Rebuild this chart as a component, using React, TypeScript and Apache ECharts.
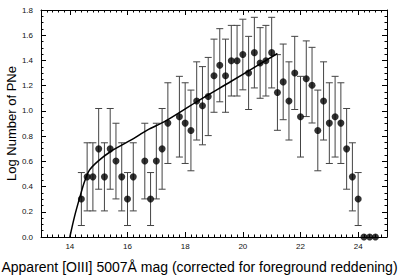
import React, { useEffect, useRef } from 'react';
import * as echarts from 'echarts';

// Binned PN counts (log10 N) with error half-widths
const mags = [14.4, 14.6, 14.8, 15.0, 15.2, 15.4, 15.6, 15.8, 16.0, 16.2, 16.6, 16.8, 17.0, 17.2, 17.4, 17.8, 18.0, 18.2, 18.4, 18.6, 18.8, 19.0, 19.2, 19.4, 19.6, 19.8, 20.0, 20.2, 20.4, 20.6, 20.8, 21.0, 21.2, 21.4, 21.6, 21.8, 22.0, 22.2, 22.4, 22.6, 22.8, 23.0, 23.2, 23.4, 23.6, 23.8, 24.0];
const logN = [0.301, 0.477, 0.477, 0.699, 0.477, 0.699, 0.602, 0.477, 0.301, 0.477, 0.602, 0.301, 0.602, 0.699, 0.903, 0.954, 0.903, 0.845, 1.079, 1.041, 1.114, 1.279, 1.362, 1.279, 1.398, 1.398, 1.447, 1.301, 1.462, 1.380, 1.398, 1.462, 1.146, 1.230, 1.079, 1.301, 0.954, 1.255, 1.204, 0.845, 1.079, 0.903, 0.954, 0.903, 0.699, 0.477, 0.301];
const errs = [0.21, 0.27, 0.27, 0.32, 0.27, 0.32, 0.30, 0.27, 0.21, 0.27, 0.30, 0.21, 0.30, 0.32, 0.32, 0.32, 0.32, 0.32, 0.31, 0.31, 0.31, 0.29, 0.29, 0.29, 0.28, 0.28, 0.28, 0.29, 0.28, 0.28, 0.28, 0.28, 0.30, 0.30, 0.31, 0.29, 0.32, 0.30, 0.30, 0.32, 0.31, 0.32, 0.32, 0.32, 0.32, 0.27, 0.21];
const zeroMags = [24.2, 24.4, 24.6];
const zeroVals = [0, 0, 0];

// Fitted luminosity-function curve
const curveMag = [14.0, 14.16, 14.34, 14.51, 14.68, 14.97, 15.43, 16.13, 16.7, 17.28, 18.45, 19.6, 20.4, 21.2];
const curveLog = [0.0, 0.16, 0.31, 0.44, 0.53, 0.60, 0.68, 0.77, 0.85, 0.915, 1.08, 1.235, 1.345, 1.455];

const xTickLabels = [14, 16, 18, 20, 22, 24];
const yTickLabels = [0, 0.2, 0.4, 0.6, 0.8, 1.0, 1.2, 1.4, 1.6, 1.8];

const FONT = '"Liberation Sans", Arial, sans-serif';

export default function App() {
  const ref = useRef<HTMLDivElement>(null);
  useEffect(() => {
    document.body.style.margin = '0';
    const chart = echarts.init(ref.current!, undefined, { renderer: 'svg' });

    const errData = mags.map((m, i) => [m, logN[i] - errs[i], logN[i] + errs[i]]);
    const ptData = mags.map((m, i) => [m, logN[i]]);
    const zeroData = zeroMags.map((m, i) => [m, zeroVals[i]]);
    const curveData = curveMag.map((m, i) => [m, curveLog[i]]);

    const baseX = (pos: 'bottom' | 'top', showLabel: boolean) => ({
      type: 'value',
      min: 13,
      max: 25,
      splitNumber: 6,
      position: pos,
      axisLine: { show: true, onZero: false, lineStyle: { color: '#000', width: 1 } },
      axisTick: { show: true, inside: true, length: 5, lineStyle: { color: '#000', width: 1 } },
      minorTick: { show: true, splitNumber: 10, length: 2.5, lineStyle: { color: '#000', width: 1 } },
      splitLine: { show: false },
      minorSplitLine: { show: false },
      axisLabel: {
        show: showLabel,
        fontSize: 8,
        color: '#111',
        margin: 5,
        fontFamily: FONT,
        formatter: (v: number) => (xTickLabels.includes(Math.round(v * 1000) / 1000) ? String(v) : ''),
      },
    });
    const baseY = (pos: 'left' | 'right', showLabel: boolean) => ({
      type: 'value',
      min: 0,
      max: 1.8,
      interval: 0.2,
      position: pos,
      axisLine: { show: true, onZero: false, lineStyle: { color: '#000', width: 1 } },
      axisTick: { show: true, inside: true, length: 5, lineStyle: { color: '#000', width: 1 } },
      minorTick: { show: true, splitNumber: 4, length: 2.5, lineStyle: { color: '#000', width: 1 } },
      splitLine: { show: false },
      minorSplitLine: { show: false },
      axisLabel: {
        show: showLabel,
        fontSize: 8,
        color: '#111',
        margin: 8,
        fontFamily: FONT,
        formatter: (v: number) => {
          const r = Math.round(v * 1000) / 1000;
          return yTickLabels.includes(r) ? r.toFixed(1) : '';
        },
      },
    });

    chart.setOption({
      animation: false,
      backgroundColor: '#fff',
      grid: { left: 41, right: 12, top: 10, bottom: 39, containLabel: false, outerBoundsMode: 'none' },
      xAxis: [baseX('bottom', true), baseX('top', false)],
      yAxis: [
        {
          ...baseY('left', true),
          name: 'Log Number of PNe',
          nameLocation: 'middle',
          nameGap: 23,
          nameMoveOverlap: false,
          nameRotate: 90,
          nameTextStyle: { fontSize: 13, color: '#000', fontFamily: FONT },
        },
        baseY('right', false),
      ],
      graphic: [
        {
          type: 'text',
          left: 'center',
          top: 260,
          style: {
            text: 'Apparent [OIII] 5007Å mag (corrected for foreground reddening)',
            font: '14px ' + FONT,
            fill: '#000',
          },
        },
      ],
      series: [
        {
          type: 'custom',
          xAxisIndex: 0,
          yAxisIndex: 0,
          encode: { x: 0, y: [1, 2] },
          data: errData,
          clip: false,
          z: 2,
          renderItem: (params: any, api: any) => {
            const x = api.value(0);
            const lo = api.value(1);
            const hi = api.value(2);
            const pLo = api.coord([x, lo]);
            const pHi = api.coord([x, hi]);
            const hw = 3.5;
            const style = { stroke: '#444', lineWidth: 1, fill: null };
            return {
              type: 'group',
              children: [
                { type: 'line', shape: { x1: pLo[0], y1: pLo[1], x2: pHi[0], y2: pHi[1] }, style },
                { type: 'line', shape: { x1: pLo[0] - hw, y1: pLo[1], x2: pLo[0] + hw, y2: pLo[1] }, style },
                { type: 'line', shape: { x1: pHi[0] - hw, y1: pHi[1], x2: pHi[0] + hw, y2: pHi[1] }, style },
              ],
            };
          },
        },
        {
          type: 'line',
          data: curveData,
          smooth: 0.3,
          showSymbol: false,
          symbol: 'none',
          lineStyle: { color: '#000', width: 1.5 },
          z: 3,
          clip: false,
        },
        {
          type: 'scatter',
          data: ptData,
          symbol: 'circle',
          symbolSize: 7,
          itemStyle: { color: '#000' },
          z: 4,
          clip: false,
        },
        {
          type: 'scatter',
          data: zeroData,
          symbol: 'circle',
          symbolSize: 7,
          itemStyle: { color: '#000' },
          z: 4,
          clip: false,
        },
      ],
    });
    return () => chart.dispose();
  }, []);
  return <div ref={ref} style={{ position: 'absolute', left: 0, top: 0, width: 399, height: 276 }} />;
}
